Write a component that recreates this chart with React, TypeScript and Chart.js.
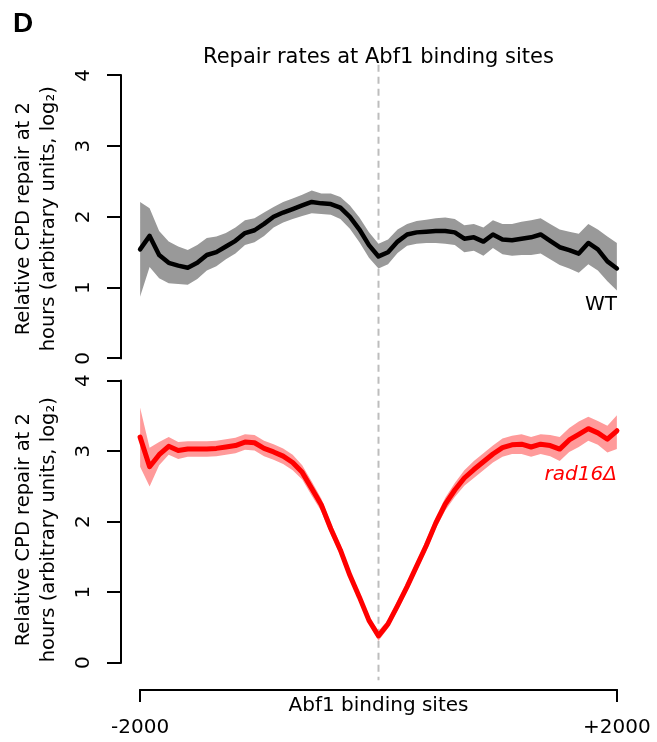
import React, { useEffect, useRef } from "react";
import { Chart, registerables } from "chart.js";

Chart.register(...registerables);

// ---- data ----
const positions = [
  -2000, -1920, -1840, -1760, -1680, -1600, -1520, -1440, -1360, -1280, -1200,
  -1120, -1040, -960, -880, -800, -720, -640, -560, -480, -400, -320, -240,
  -160, -80, 0, 80, 160, 240, 320, 400, 480, 560, 640, 720, 800, 880, 960,
  1040, 1120, 1200, 1280, 1360, 1440, 1520, 1600, 1680, 1760, 1840, 1920, 2000,
];

const wtMean = [
  1.54, 1.73, 1.46, 1.35, 1.31, 1.28, 1.35, 1.46, 1.5, 1.58, 1.66, 1.77, 1.81,
  1.9, 2.0, 2.06, 2.11, 2.16, 2.21, 2.19, 2.18, 2.13, 2.0, 1.82, 1.6, 1.44,
  1.5, 1.65, 1.75, 1.78, 1.79, 1.8, 1.8, 1.78, 1.69, 1.71, 1.65, 1.75, 1.68,
  1.67, 1.69, 1.71, 1.75, 1.66, 1.57, 1.53, 1.48, 1.63, 1.54, 1.37, 1.27,
];
const wtUpper = [
  2.21, 2.12, 1.8, 1.65, 1.58, 1.53, 1.6, 1.7, 1.72, 1.77, 1.85, 1.95, 1.98,
  2.06, 2.14, 2.21, 2.26, 2.31, 2.37, 2.33, 2.33, 2.28, 2.16, 1.99, 1.78, 1.62,
  1.68, 1.82, 1.9, 1.94, 1.96, 1.98, 1.99, 1.97, 1.88, 1.9, 1.85, 1.95, 1.9,
  1.9, 1.93, 1.95, 1.98, 1.9, 1.82, 1.79, 1.76, 1.9, 1.82, 1.72, 1.63,
];
const wtLower = [
  0.87, 1.29, 1.13, 1.06, 1.05, 1.04, 1.12, 1.24, 1.3, 1.4, 1.48, 1.6, 1.64,
  1.73, 1.85, 1.92, 1.97, 2.01, 2.05, 2.04, 2.03, 1.97, 1.83, 1.64, 1.42, 1.27,
  1.33, 1.49, 1.59, 1.62, 1.63, 1.63, 1.62, 1.6, 1.5, 1.52, 1.45, 1.56, 1.47,
  1.45, 1.46, 1.46, 1.48, 1.4, 1.32, 1.27, 1.21, 1.33, 1.24, 1.09, 0.96,
];

const radMean = [
  3.2, 2.78, 2.95, 3.07, 3.01, 3.03, 3.03, 3.03, 3.04, 3.06, 3.08, 3.13, 3.12,
  3.04, 2.99, 2.93, 2.84, 2.7, 2.47, 2.24, 1.9, 1.6, 1.24, 0.93, 0.6, 0.38,
  0.55, 0.81, 1.08, 1.37, 1.66, 1.98, 2.25, 2.45, 2.62, 2.74, 2.85, 2.96, 3.05,
  3.09, 3.1, 3.06, 3.1, 3.08, 3.03, 3.16, 3.24, 3.32, 3.26, 3.17, 3.29,
];
const radUpper = [
  3.62, 3.05, 3.13, 3.2, 3.13, 3.14, 3.14, 3.14, 3.15, 3.17, 3.19, 3.24, 3.23,
  3.15, 3.1, 3.04, 2.95, 2.8, 2.57, 2.33, 1.98, 1.68, 1.31, 0.99, 0.65, 0.45,
  0.61, 0.88, 1.15, 1.44, 1.74, 2.06, 2.34, 2.55, 2.73, 2.86, 2.97, 3.08, 3.18,
  3.22, 3.24, 3.2, 3.24, 3.23, 3.2, 3.33, 3.42, 3.49, 3.43, 3.36, 3.51,
];
const radLower = [
  2.78, 2.5, 2.8, 2.95, 2.89, 2.92, 2.92, 2.92, 2.93, 2.95, 2.97, 3.02, 3.01,
  2.93, 2.88, 2.82, 2.73, 2.6, 2.37, 2.15, 1.82, 1.52, 1.17, 0.87, 0.55, 0.31,
  0.49, 0.74, 1.01, 1.3, 1.58, 1.9, 2.16, 2.35, 2.51, 2.62, 2.73, 2.84, 2.92,
  2.96, 2.96, 2.92, 2.96, 2.93, 2.86, 2.99, 3.06, 3.15, 3.09, 2.98, 3.03,
];

const xTickValues = [-2000, 2000];
const xTickLabels = ["-2000", "+2000"];
const yTickValues = [0, 1, 2, 3, 4];
const yTickLabels = ["0", "1", "2", "3", "4"];

const titleText = "Repair rates at Abf1 binding sites";
const xTitle = "Abf1 binding sites";
const yTitle = ["Relative CPD repair at 2", "hours (arbitrary units, log\u2082)"];
const panelLetter = "D";
const wtLabel = "WT";
const radLabel = "rad16\u0394";

const FONT = "'DejaVu Sans', sans-serif";

const toPts = (ys: number[]) => positions.map((x, i) => ({ x, y: ys[i] }));

const decorPlugin = {
  id: "decor",
  beforeDatasetsDraw(chart: any) {
    const { ctx, scales } = chart;
    const x0 = scales.x.getPixelForValue(0);
    const yStart = scales.yTop.getPixelForValue(4.15);
    const yEnd = scales.yBot.getPixelForValue(-0.25);
    ctx.save();
    ctx.strokeStyle = "#bdbdbd";
    ctx.lineWidth = 2;
    ctx.setLineDash([7, 5]);
    ctx.beginPath();
    ctx.moveTo(x0, yStart);
    ctx.lineTo(x0, yEnd);
    ctx.stroke();
    ctx.restore();
  },
  afterDraw(chart: any) {
    const { ctx, scales, chartArea } = chart;
    ctx.save();
    ctx.strokeStyle = "#000";
    ctx.lineWidth = 2;
    ctx.lineCap = "square";
    // y axis lines (0..4) for both panels
    const ax = chartArea.left;
    for (const id of ["yTop", "yBot"]) {
      const s = scales[id];
      ctx.beginPath();
      ctx.moveTo(ax, s.getPixelForValue(yTickValues[0]));
      ctx.lineTo(ax, s.getPixelForValue(yTickValues[yTickValues.length - 1]));
      ctx.stroke();
      // rotated tick labels
      ctx.fillStyle = "#000";
      ctx.font = `20px ${FONT}`;
      ctx.textAlign = "center";
      ctx.textBaseline = "middle";
      yTickValues.forEach((v, i) => {
        ctx.save();
        ctx.translate(ax - 37, s.getPixelForValue(v));
        ctx.rotate(-Math.PI / 2);
        ctx.fillText(yTickLabels[i], 0, 0);
        ctx.restore();
      });
    }
    // x axis line
    const xs = scales.x;
    ctx.beginPath();
    ctx.moveTo(xs.getPixelForValue(xTickValues[0]), chartArea.bottom);
    ctx.lineTo(xs.getPixelForValue(xTickValues[xTickValues.length - 1]), chartArea.bottom);
    ctx.stroke();

    // series labels
    ctx.textAlign = "right";
    ctx.textBaseline = "middle";
    ctx.fillStyle = "#000";
    ctx.font = `20px ${FONT}`;
    ctx.fillText(wtLabel, xs.getPixelForValue(2000), scales.yTop.getPixelForValue(0.76));
    ctx.fillStyle = "#ff0000";
    ctx.font = `italic 20px ${FONT}`;
    ctx.fillText(radLabel, xs.getPixelForValue(2000), scales.yBot.getPixelForValue(2.66));

    // panel letter
    ctx.fillStyle = "#000";
    ctx.textAlign = "left";
    ctx.textBaseline = "alphabetic";
    ctx.font = `bold 28px 'Liberation Sans', Arial, sans-serif`;
    ctx.fillText(panelLetter, 13, 32);
    ctx.restore();
  },
};

export default function App() {
  const canvasRef = useRef<HTMLCanvasElement | null>(null);

  useEffect(() => {
    const canvas = canvasRef.current;
    if (!canvas) return;

    const yGrid = {
      display: true,
      drawOnChartArea: false,
      drawTicks: true,
      tickLength: 14,
      tickWidth: 2,
      lineWidth: 2,
      color: "#000",
      tickColor: "#000",
    };
    const yTitleOpts = {
      display: true,
      text: yTitle,
      color: "#000",
      font: { family: FONT, size: 19.5, lineHeight: 1.3 },
      padding: { top: 11, bottom: 0 },
    };

    const chart = new Chart(canvas, {
      type: "line",
      data: {
        datasets: [
          {
            label: "WT",
            data: toPts(wtMean),
            yAxisID: "yTop",
            borderColor: "#000000",
            borderWidth: 4.5,
            pointRadius: 0,
            tension: 0,
            borderJoinStyle: "round",
            borderCapStyle: "round",
            fill: false,
            order: 0,
          },
          {
            label: "WT upper",
            data: toPts(wtUpper),
            yAxisID: "yTop",
            borderWidth: 0,
            borderColor: "rgba(0,0,0,0)",
            backgroundColor: "#999999",
            pointRadius: 0,
            tension: 0,
            fill: "+1",
            order: 1,
          },
          {
            label: "WT lower",
            data: toPts(wtLower),
            yAxisID: "yTop",
            borderWidth: 0,
            borderColor: "rgba(0,0,0,0)",
            pointRadius: 0,
            tension: 0,
            fill: false,
            order: 1,
          },
          {
            label: "rad16",
            data: toPts(radMean),
            yAxisID: "yBot",
            borderColor: "#ff0000",
            borderWidth: 5,
            pointRadius: 0,
            tension: 0,
            borderJoinStyle: "round",
            borderCapStyle: "round",
            fill: false,
            order: 0,
          },
          {
            label: "rad16 upper",
            data: toPts(radUpper),
            yAxisID: "yBot",
            borderWidth: 0,
            borderColor: "rgba(0,0,0,0)",
            backgroundColor: "#ff9a9a",
            pointRadius: 0,
            tension: 0,
            fill: "+1",
            order: 1,
          },
          {
            label: "rad16 lower",
            data: toPts(radLower),
            yAxisID: "yBot",
            borderWidth: 0,
            borderColor: "rgba(0,0,0,0)",
            pointRadius: 0,
            tension: 0,
            fill: false,
            order: 1,
          },
        ],
      },
      options: {
        animation: false,
        responsive: false,
        devicePixelRatio: 1,
        layout: { padding: { left: 0, right: 21, top: 0, bottom: 0 } },
        plugins: {
          legend: { display: false },
          tooltip: { enabled: false },
          title: {
            display: true,
            fullSize: false,
            text: titleText,
            color: "#000",
            font: { family: FONT, size: 21, weight: "normal", lineHeight: 1.0 },
            padding: { top: 47, bottom: 0 },
          },
        },
        scales: {
          x: {
            type: "linear",
            position: "bottom",
            min: -2160,
            max: 2160,
            afterBuildTicks: (s: any) => {
              s.ticks = xTickValues.map((v) => ({ value: v }));
            },
            afterFit: (s: any) => {
              s.height = 52;
              s.paddingLeft = 0;
              s.paddingRight = 0;
            },
            ticks: {
              autoSkip: false,
              maxRotation: 0,
              minRotation: 0,
              padding: 14,
              color: "#000",
              font: { family: FONT, size: 20 },
              callback: (v: any) => {
                const i = xTickValues.indexOf(Number(v));
                return i >= 0 ? xTickLabels[i] : "";
              },
            },
            grid: {
              display: true,
              drawOnChartArea: false,
              drawTicks: true,
              tickLength: 12,
              tickWidth: 2,
              lineWidth: 2,
              color: "#000",
              tickColor: "#000",
            },
            border: { display: false },
            title: {
              display: true,
              text: xTitle,
              color: "#000",
              font: { family: FONT, size: 20 },
              padding: { top: 0, bottom: 24 },
            },
          },
          yTop: {
            type: "linear",
            position: "left",
            stack: "panels",
            stackWeight: 301.5,
            weight: 2,
            min: -0.158,
            max: 4.103,
            afterBuildTicks: (s: any) => {
              s.ticks = yTickValues.map((v) => ({ value: v }));
            },
            afterFit: (s: any) => {
              s.width = 121;
            },
            ticks: { display: false },
            grid: yGrid,
            border: { display: false },
            title: yTitleOpts,
          },
          yBot: {
            type: "linear",
            position: "left",
            stack: "panels",
            stackWeight: 320.5,
            weight: 1,
            min: -0.387,
            max: 4.159,
            afterBuildTicks: (s: any) => {
              s.ticks = yTickValues.map((v) => ({ value: v }));
            },
            afterFit: (s: any) => {
              s.width = 121;
            },
            ticks: { display: false },
            grid: yGrid,
            border: { display: false },
            title: yTitleOpts,
          },
        },
      } as any,
      plugins: [decorPlugin],
    });

    return () => {
      chart.destroy();
    };
  }, []);

  return (
    <div
      style={{
        position: "absolute",
        left: 0,
        top: 0,
        width: 657,
        height: 742,
        background: "#ffffff",
      }}
    >
      <canvas ref={canvasRef} width={657} height={742} style={{ display: "block" }} />
    </div>
  );
}
